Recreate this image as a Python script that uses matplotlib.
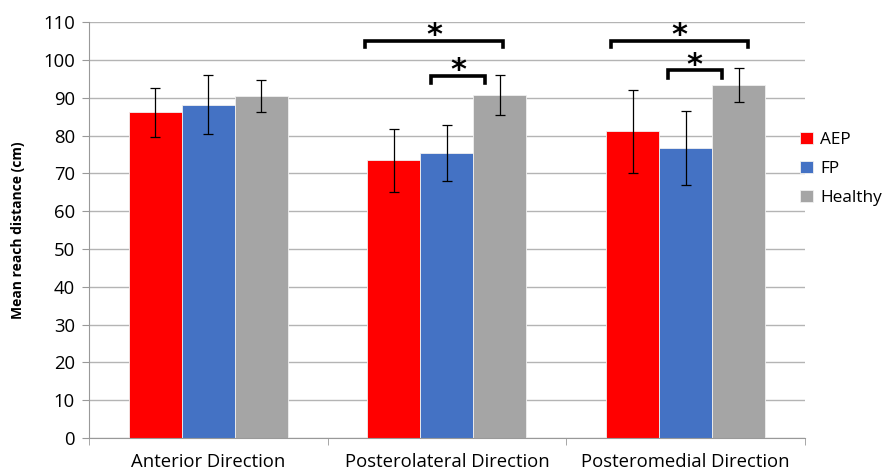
import numpy as np
import matplotlib.pyplot as plt

# data
categories = ['Anterior Direction', 'Posterolateral Direction', 'Posteromedial Direction']
groups = ['AEP', 'FP', 'Healthy']
aep_mean = [86.2, 73.4, 81.1]
aep_err = [6.5, 8.4, 11.0]
fp_mean = [88.2, 75.4, 76.7]
fp_err = [7.8, 7.3, 9.9]
healthy_mean = [90.4, 90.7, 93.3]
healthy_err = [4.2, 5.2, 4.5]

# significance brackets: (category index, x start, x end, line height, leg bottom)
brackets = [
    (1, -0.344, 0.235, 105.1, 103.4),
    (1, -0.067, 0.159, 95.8, 93.9),
    (2, -0.314, 0.260, 105.1, 103.4),
    (2, -0.075, 0.151, 97.2, 95.2),
]

colors = ['#FF0000', '#4472C4', '#A5A5A5']
means = [aep_mean, fp_mean, healthy_mean]
errs = [aep_err, fp_err, healthy_err]

plt.rcParams['font.family'] = ['Open Sans', 'DejaVu Sans']

fig = plt.figure(figsize=(8.88, 4.70), dpi=100)
ax = fig.add_axes([0.1002, 0.068, 0.8063, 0.885])

x = np.arange(len(categories)) + 0.5
width = 0.222
for i, (m, e, c, g) in enumerate(zip(means, errs, colors, groups)):
    ax.bar(x + (i - 1) * width, m, width, color=c, edgecolor='#f0f0f0',
           linewidth=0.6, label=g, zorder=2,
           yerr=e, error_kw=dict(ecolor='black', elinewidth=0.9, capsize=3.5,
                                 capthick=0.9, zorder=3))

for ci, x0, x1, yl, yb in brackets:
    cx = x[ci]
    ax.plot([cx + x0, cx + x0, cx + x1, cx + x1], [yb, yl, yl, yb],
            color='black', lw=2.6, solid_joinstyle='miter', zorder=4,
            clip_on=False)
    # asterisk glyph sits high in the line box, so anchor on the baseline
    ax.text(cx + (x0 + x1) / 2, yl - 0.9, '*', ha='center', va='baseline',
            fontsize=22, fontweight='bold', family='DejaVu Sans', zorder=4)

ax.set_xlim(0, 3)
ax.set_ylim(0, 110)
ax.set_yticks(np.arange(0, 111, 10))
ax.set_xticks(x)
ax.set_xticklabels(categories, fontsize=13.3)
ax.set_xticks([0, 1, 2, 3], minor=True)
ax.tick_params(axis='x', which='major', length=0, pad=11)
ax.tick_params(axis='x', which='minor', length=5, color='#999999')
ax.tick_params(axis='y', length=5, color='#999999', labelsize=13.3, pad=5)
ax.yaxis.grid(True, color='#b4b4b4', linewidth=1)
ax.set_axisbelow(True)
for s in ['top', 'right']:
    ax.spines[s].set_visible(False)
for s in ['left', 'bottom']:
    ax.spines[s].set_color('#999999')

ax.set_ylabel('Mean reach distance (cm)', fontsize=10, fontweight='bold')
ax.yaxis.set_label_coords(-0.09, 0.5)

fig.legend(loc='center left', bbox_to_anchor=(0.884, 0.64), frameon=False,
           fontsize=12.4, handlelength=0.7, handleheight=0.7,
           handletextpad=0.45, labelspacing=0.75)

fig.savefig('out.png', dpi=100)
